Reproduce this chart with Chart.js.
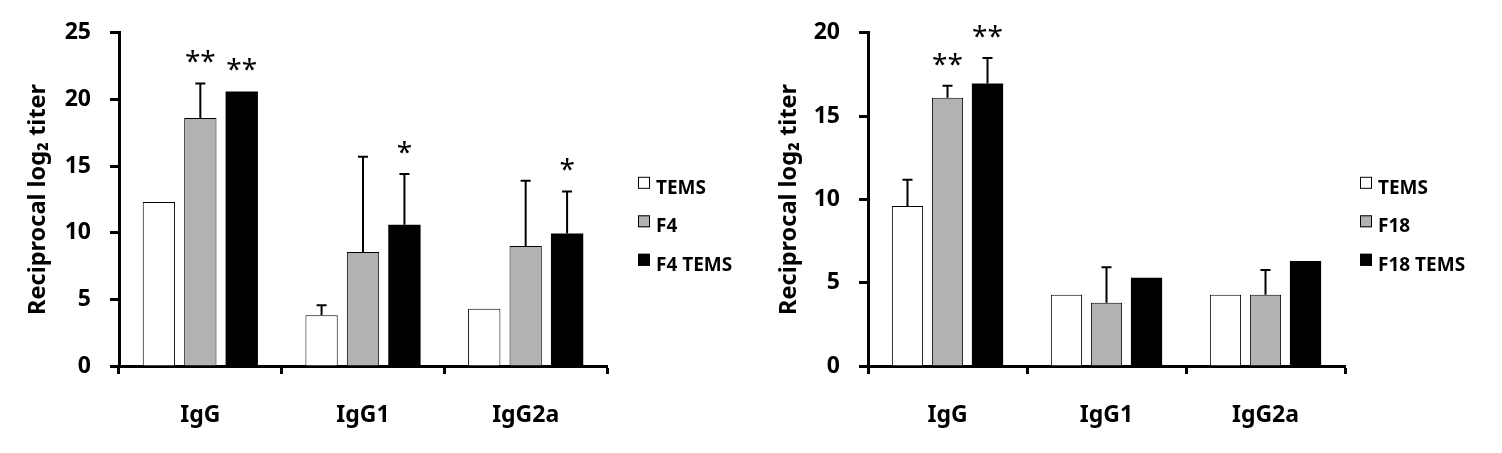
<!DOCTYPE html>
<html>
<head>
<meta charset="utf-8">
<script src="https://cdn.jsdelivr.net/npm/chart.js@4.4.1/dist/chart.umd.min.js"></script>
<style>
  body { margin: 0; background: #fff; }
  #wrap { display: flex; width: 1502px; height: 453px; }
  canvas { display: block; }
</style>
</head>
<body>
<div id="wrap">
  <canvas id="chartF4" width="751" height="453"></canvas>
  <canvas id="chartF18" width="751" height="453"></canvas>
</div>
<script>
const categories = ['IgG', 'IgG1', 'IgG2a'];

// Panel izquierdo (F4)
const f4Labels = ['TEMS', 'F4', 'F4 TEMS'];
const f4Tems = [12.3, 3.8, 4.3];
const f4Only = [18.6, 8.55, 9.0];
const f4PlusTems = [20.6, 10.6, 9.95];
const f4TemsErr = [null, 0.75, null];
const f4OnlyErr = [2.6, 7.15, 4.9];
const f4PlusTemsErr = [null, 3.8, 3.15];
const f4OnlyStars = ['**', '', ''];
const f4PlusTemsStars = ['**', '*', '*'];
const f4Ticks = [0, 5, 10, 15, 20, 25];

// Panel derecho (F18)
const f18Labels = ['TEMS', 'F18', 'F18 TEMS'];
const f18Tems = [9.6, 4.28, 4.28];
const f18Only = [16.1, 3.8, 4.28];
const f18PlusTems = [16.95, 5.3, 6.3];
const f18TemsErr = [1.58, null, null];
const f18OnlyErr = [0.72, 2.13, 1.48];
const f18PlusTemsErr = [1.54, null, null];
const f18OnlyStars = ['**', '', ''];
const f18PlusTemsStars = ['**', '', ''];
const f18Ticks = [0, 5, 10, 15, 20];

const FONT = "'Noto Sans', 'DejaVu Sans', sans-serif";

// Barras de error, asteriscos y leyenda
const extrasPlugin = {
  id: 'extras',
  afterDatasetsDraw(chart, args, opts) {
    const ctx = chart.ctx;
    const yScale = chart.scales.y;
    ctx.save();
    chart.data.datasets.forEach((ds, i) => {
      const meta = chart.getDatasetMeta(i);
      meta.data.forEach((bar, j) => {
        let topY = bar.y;
        const err = ds.errors[j];
        if (err) {
          const ey = yScale.getPixelForValue(ds.data[j] + err);
          ctx.strokeStyle = '#000';
          ctx.lineWidth = 2;
          ctx.beginPath();
          ctx.moveTo(bar.x, bar.y);
          ctx.lineTo(bar.x, ey);
          ctx.moveTo(bar.x - 5, ey);
          ctx.lineTo(bar.x + 5, ey);
          ctx.stroke();
          topY = ey;
        }
        const s = ds.stars[j];
        if (s) {
          ctx.fillStyle = '#000';
          ctx.font = '28px ' + FONT;
          ctx.textAlign = 'center';
          ctx.textBaseline = 'middle';
          ctx.fillText(s, bar.x, topY - 20);
        }
      });
    });
    ctx.restore();
  },
  afterDraw(chart, args, opts) {
    const ctx = chart.ctx;
    const area = chart.chartArea;
    ctx.save();
    chart.data.datasets.forEach((ds, i) => {
      const bx = area.right + opts.offsetX;
      const by = area.top + 144 + i * 38.5;
      ctx.fillStyle = ds.backgroundColor;
      ctx.fillRect(bx, by, 12, 12);
      ctx.strokeStyle = '#000';
      ctx.lineWidth = 1;
      ctx.strokeRect(bx + 0.5, by + 0.5, 11, 11);
      ctx.fillStyle = '#000';
      ctx.font = 'bold 19px ' + FONT;
      ctx.textAlign = 'left';
      ctx.textBaseline = 'alphabetic';
      ctx.fillText(ds.label, bx + 18, by + 17);
    });
    ctx.restore();
  }
};

function makeChart(canvasId, labels, series, errs, stars, yMax, yTicks, axisWidth, padRight, legendOffset, catPct) {
  const colors = ['#ffffff', '#b2b2b2', '#000000'];
  const datasets = series.map((values, i) => ({
    label: labels[i],
    data: values,
    errors: errs[i],
    stars: stars[i],
    backgroundColor: colors[i],
    borderColor: '#000',
    borderWidth: i === 2 ? 0 : 1,
    categoryPercentage: catPct,
    barPercentage: 0.78,
  }));

  return new Chart(document.getElementById(canvasId), {
    type: 'bar',
    data: { labels: categories, datasets: datasets },
    plugins: [extrasPlugin],
    options: {
      responsive: false,
      animation: false,
      layout: { padding: { top: 28, right: padRight, bottom: 0, left: 0 } },
      plugins: {
        legend: { display: false },
        tooltip: { enabled: false },
        extras: { offsetX: legendOffset },
      },
      scales: {
        x: {
          afterFit: (scale) => { scale.height = 87; },
          grid: { display: true, offset: true, drawOnChartArea: false, drawTicks: true,
                  tickLength: 8, tickWidth: 3, tickColor: '#000' },
          border: { display: true, width: 3, color: '#000' },
          ticks: { color: '#000', padding: 28, font: { family: FONT, size: 23, weight: 'bold' } },
        },
        y: {
          min: 0,
          max: yMax,
          afterFit: (scale) => { scale.width = axisWidth; },
          afterBuildTicks: (scale) => { scale.ticks = yTicks.map(v => ({ value: v })); },
          grid: { display: true, drawOnChartArea: false, drawTicks: true,
                  tickLength: 9, tickWidth: 3, tickColor: '#000' },
          border: { display: true, width: 3, color: '#000' },
          ticks: { color: '#000', padding: 19, font: { family: FONT, size: 23, weight: 'bold' } },
          title: {
            display: true,
            text: 'Reciprocal log₂ titer',
            color: '#000',
            font: { family: FONT, size: 23.5, weight: 'bold' },
            padding: { top: 24, bottom: 0 },
          },
        },
      },
    },
  });
}

makeChart('chartF4', f4Labels,
  [f4Tems, f4Only, f4PlusTems],
  [f4TemsErr, f4OnlyErr, f4PlusTemsErr],
  [['', '', ''], f4OnlyStars, f4PlusTemsStars],
  25, f4Ticks, 119, 144, 31, 0.764);

makeChart('chartF18', f18Labels,
  [f18Tems, f18Only, f18PlusTems],
  [f18TemsErr, f18OnlyErr, f18PlusTemsErr],
  [['', '', ''], f18OnlyStars, f18PlusTemsStars],
  20, f18Ticks, 117, 157, 15, 0.755);
</script>
</body>
</html>
